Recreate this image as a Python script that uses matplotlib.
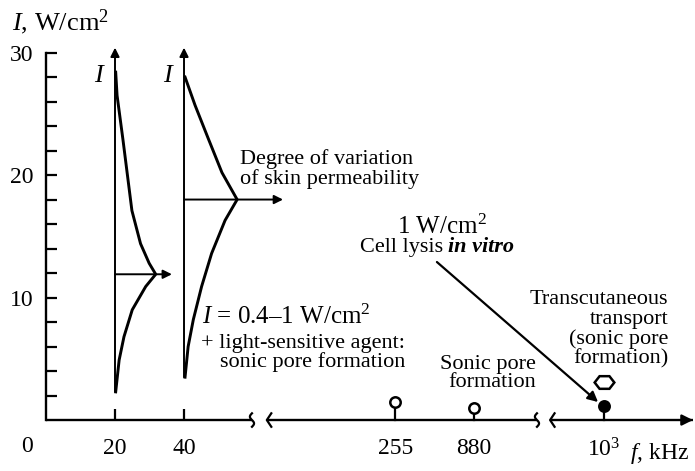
import numpy as np
import matplotlib
matplotlib.use("Agg")
import matplotlib.pyplot as plt
from matplotlib.markers import MarkerStyle
from matplotlib.transforms import Affine2D

# intensity profiles: I (W/cm2) and spindle width
prof20_I = [28.4, 26.5, 22.9, 17.1, 14.4, 12.8, 11.9, 10.9, 9.0, 6.8, 4.9, 2.3]
prof20_w = [0.2, 0.6, 2.3, 4.9, 7.4, 9.9, 11.8, 8.9, 5.0, 2.6, 1.2, 0.2]
prof40_I = [28.0, 25.7, 23.0, 20.2, 18.0, 16.3, 13.6, 10.9, 8.2, 6.0, 3.5]
prof40_w = [0.3, 3.2, 7.0, 11.0, 15.4, 11.9, 8.0, 5.1, 2.7, 1.2, 0.3]
prof_f = [20, 40]
peak_I = [11.9, 18.0]

# frequency axis
tick_f = [20, 40]
tick_lbl = ["20", "40"]
point_f = [255, 880, 1000]
point_lbl = ["255", "880", "$10^3$"]
point_I = [1.5, 1.0, 1.15]
point_open = [True, True, False]
hex_f = 1000
hex_I = 3.1

# broken axis: frequency -> position along the drawn axis
AX_F = [0, 60, 255, 880, 1000, 1100]
AX_X = [0, 60, 101.2, 124.1, 161.7, 171.7]
SEGMENTS = [(0, 59.7), (64.0, 142.3), (146.1, 187.5)]


def xpos(f):
    return np.interp(f, AX_F, AX_X)


plt.rcParams["font.family"] = ["Liberation Serif", "DejaVu Serif"]
plt.rcParams["mathtext.fontset"] = "custom"
plt.rcParams["mathtext.rm"] = "Liberation Serif"
plt.rcParams["mathtext.it"] = "Liberation Serif:italic"
plt.rcParams["mathtext.bf"] = "Liberation Serif:bold"

FS = 16
fig = plt.figure(figsize=(6.95, 4.71), dpi=100)
ax = fig.add_axes([0, 0, 1, 1])
ax.set_xlim(-13.33, 188.1)
ax.set_ylim(-4.16, 34.29)

# y axis (real spine, bounded 0..30)
for s in ("top", "right"):
    ax.spines[s].set_visible(False)
ax.spines["left"].set_position(("data", 0))
ax.spines["left"].set_bounds(0, 30)
ax.spines["left"].set_linewidth(1.7)
ax.spines["bottom"].set_position(("data", 0))
ax.spines["bottom"].set_visible(False)
ax.set_yticks([10, 20, 30], ["10", "20", "30"])
ax.set_yticks([v for v in range(2, 30, 2) if v % 10], minor=True)
ax.tick_params(axis="y", which="both", direction="in", length=8, width=1.6,
               labelsize=FS + 1, pad=9)

# x axis ticks / labels
ax.set_xticks(tick_f, tick_lbl)
ax.set_xticks(xpos(point_f), point_lbl, minor=True)
ax.tick_params(axis="x", which="major", direction="in", length=8, width=1.6,
               labelsize=FS + 1, pad=13)
ax.tick_params(axis="x", which="minor", direction="in", length=0,
               labelsize=FS + 1, pad=13)
ax.annotate("0", xy=(0, 0), xytext=(-19, -26), textcoords="offset pixels",
            ha="center", va="center", fontsize=FS + 1)

# broken x axis
for i, (a, b) in enumerate(SEGMENTS):
    ax.plot([a, b], [0, 0], color="k", lw=1.7, solid_capstyle="butt")
    if i > 0:  # "<" at start of segment
        ax.plot([a + 1.3, a, a + 1.3], [0.55, 0, -0.55], color="k", lw=1.6)
    if i < len(SEGMENTS) - 1:  # "ʃ" at end of segment
        t = np.linspace(-1, 1, 25)
        ax.plot(b + 0.6 * np.sin(np.pi * t), -0.55 * t, color="k", lw=1.6)
ax.annotate("", xy=(SEGMENTS[-1][1], 0), xytext=(SEGMENTS[-1][1] - 3, 0),
            arrowprops=dict(arrowstyle="-|>", color="k", lw=1.7,
                            mutation_scale=16, shrinkA=0, shrinkB=0))

# spindles
for f, I, w, pk in zip(prof_f, [prof20_I, prof40_I], [prof20_w, prof40_w], peak_I):
    ax.plot(f + np.array(w), I, color="k", lw=2.1, solid_joinstyle="round")
    ax.annotate("", xy=(f, 30.4), xytext=(f, min(I)),
                arrowprops=dict(arrowstyle="-|>", color="k", lw=1.4,
                                mutation_scale=13, shrinkA=0, shrinkB=0))
    ax.text(f - 4.3, 28.1, "$I$", fontsize=FS + 3, ha="center", va="center")
ax.annotate("", xy=(36.5, peak_I[0]), xytext=(20, peak_I[0]),
            arrowprops=dict(arrowstyle="-|>", color="k", lw=1.4,
                            mutation_scale=13, shrinkA=0, shrinkB=0))
ax.annotate("", xy=(68.7, peak_I[1]), xytext=(40, peak_I[1]),
            arrowprops=dict(arrowstyle="-|>", color="k", lw=1.4,
                            mutation_scale=13, shrinkA=0, shrinkB=0))

# frequency points
for f, I, op in zip(point_f, point_I, point_open):
    x = xpos(f)
    ax.plot([x, x], [0, I], color="k", lw=1.6)
    ax.plot(x, I, "o", ms=7.5, mfc="white" if op else "k", mec="k", mew=1.8, zorder=5)
hexm = MarkerStyle("H", transform=Affine2D().scale(1.35, 1.0))
ax.plot(xpos(hex_f), hex_I, marker=hexm, ms=10.5, mfc="white", mec="k", mew=1.8,
        ls="none")

# annotations
ax.text(-9.9, 32.5, "$I$, W/cm$^2$", fontsize=FS + 3, ha="left", va="center")
ax.text(56.2, 20.5, "Degree of variation\nof skin permeability", fontsize=FS,
        ha="left", va="center", linespacing=1.0)
ax.text(114.8, 15.8, "1 W/cm$^2$", fontsize=FS + 2, ha="center", va="center")
ax.text(115.1, 14.1, "Cell lysis", fontsize=FS, ha="right", va="center")
ax.text(116.5, 14.1, "in vitro", fontsize=FS, ha="left", va="center",
        style="italic", weight="bold")
ax.annotate("", xy=(160.0, 1.47), xytext=(113.3, 12.9),
            arrowprops=dict(arrowstyle="-|>", color="k", lw=1.6,
                            mutation_scale=15, shrinkA=0, shrinkB=0))
ax.text(45.2, 8.4, "$I$ = 0.4\u20131 W/cm$^2$", fontsize=FS + 2, ha="left", va="center")
ax.text(104.1, 5.5, "+ light-sensitive agent:\nsonic pore formation", fontsize=FS,
        ha="right", va="center", multialignment="right", linespacing=0.95)
ax.text(142.0, 3.8, "Sonic pore\nformation", fontsize=FS, ha="right", va="center",
        multialignment="right", linespacing=0.95)
ax.text(180.3, 7.4, "Transcutaneous\ntransport\n(sonic pore\nformation)", fontsize=FS,
        ha="right", va="center", multialignment="right", linespacing=1.02)
ax.text(169.3, -2.7, "$f$, kHz", fontsize=FS + 1, ha="left", va="center")

fig.savefig("out.png", dpi=100)
